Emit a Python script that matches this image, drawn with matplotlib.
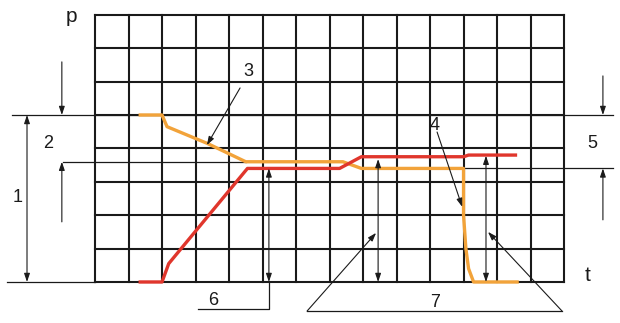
import matplotlib

matplotlib.use("Agg")
import matplotlib.pyplot as plt

plt.rcParams["font.family"] = ["Liberation Sans", "DejaVu Sans"]

# grid size (cells) of the diagram
N_COLS = 14
N_ROWS = 8

# curve 3/4 (orange) and the rising curve (red), in grid units
orange_t = [1.35, 2.0, 2.15, 3.35, 4.5, 7.4, 7.95, 11.0, 11.0, 11.07, 11.15, 11.3, 12.6]
orange_p = [5.0, 5.0, 4.65, 4.15, 3.6, 3.6, 3.4, 3.4, 2.0, 1.0, 0.4, 0.0, 0.0]
red_t = [1.35, 2.0, 2.2, 4.55, 7.3, 7.95, 11.0, 11.15, 12.55]
red_p = [0.0, 0.0, 0.55, 3.4, 3.4, 3.75, 3.75, 3.8, 3.8]

ORANGE = "#f2a33a"
RED = "#e0362c"
INK = "#1a1a1a"

fig = plt.figure(figsize=(6.2, 3.23), dpi=100)
ax = fig.add_axes([0, 0, 1, 1])
ax.set_xlim(-2.836, 15.67)
ax.set_ylim(-1.228, 8.443)
ax.axis("off")

# grid
for i in range(N_COLS + 1):
    ax.plot([i, i], [0, N_ROWS], color=INK, lw=1.5, zorder=1)
for j in range(N_ROWS + 1):
    ax.plot([0, N_COLS], [j, j], color=INK, lw=1.5, zorder=1)

# extension lines
thin = dict(color=INK, lw=0.9, zorder=1)
ax.plot([-2.48, 15.46], [5, 5], **thin)
ax.plot([-2.63, 0], [0, 0], **thin)
ax.plot([-0.96, 4.5], [3.6, 3.6], **thin)
ax.plot([11.0, 15.46], [3.4, 3.4], **thin)

ax.plot(orange_t, orange_p, color=ORANGE, lw=2.4, zorder=3, solid_joinstyle="round")
ax.plot(red_t, red_p, color=RED, lw=2.4, zorder=3, solid_joinstyle="round")


def arrow(x0, y0, x1, y1, style="-|>"):
    ax.annotate("", xy=(x1, y1), xytext=(x0, y0), zorder=4,
                arrowprops=dict(arrowstyle=f"{style},head_length=0.5,head_width=0.17",
                                color=INK, lw=0.8, shrinkA=0, shrinkB=0))


# 1 and 2 on the left
arrow(-2.03, 0, -2.03, 5, "<|-|>")
arrow(-0.99, 6.59, -0.99, 5)
arrow(-0.99, 1.8, -0.99, 3.6)
# 5 on the right
arrow(15.16, 6.17, 15.16, 5)
arrow(15.16, 1.86, 15.16, 3.4)
# leaders 3 and 4
arrow(4.33, 5.81, 3.34, 4.1)
arrow(10.21, 4.49, 10.96, 2.25)
# 6
arrow(5.19, 0, 5.19, 3.4, "<|-|>")
ax.plot([3.07, 5.19, 5.19], [-0.81, -0.81, 0], **thin)
# 7
arrow(8.45, 0, 8.45, 3.68, "<|-|>")
arrow(11.67, 0, 11.67, 3.78, "<|-|>")
ax.plot([6.33, 13.94], [-0.87, -0.87], **thin)
arrow(6.33, -0.87, 8.39, 1.47)
arrow(13.94, -0.87, 11.73, 1.5)

labels = [("1", -2.3, 2.54), ("2", -1.4, 4.16), ("3", 4.57, 6.29), ("4", 10.15, 4.7),
          ("5", 14.84, 4.16), ("6", 3.52, -0.54), ("7", 10.15, -0.6)]
for s, x, y in labels:
    ax.text(x, y, s, fontsize=13, ha="center", va="center", color=INK, zorder=5)
ax.text(-0.69, 7.95, "p", fontsize=15, ha="center", va="center", color=INK)
ax.text(14.69, 0.2, "t", fontsize=15, ha="center", va="center", color=INK)

fig.savefig("out.png", dpi=100)
